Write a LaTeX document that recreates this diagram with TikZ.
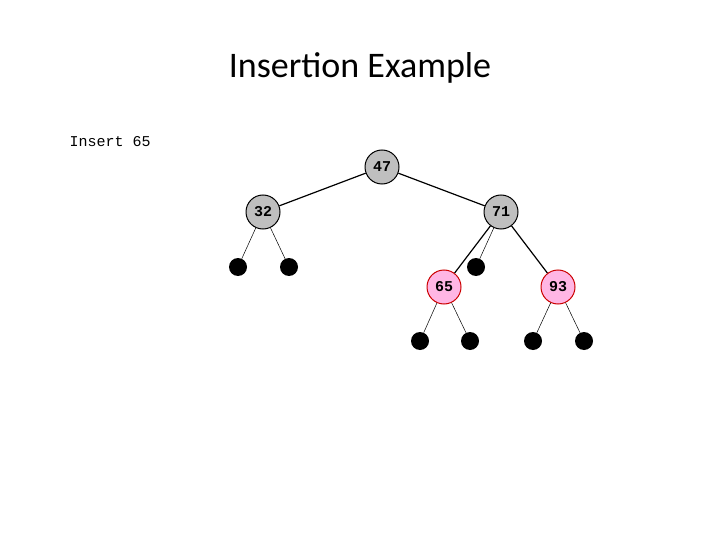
\documentclass[tikz,border=0pt]{standalone}
\usepackage{fontspec}
\setmainfont{Carlito}
\newfontfamily\codefont{Liberation Mono}
\begin{document}
\begin{tikzpicture}[x=1pt,y=-1pt,
  key/.style={circle,draw,line width=1pt,minimum size=34pt,inner sep=0pt,font=\codefont\bfseries\fontsize{15}{15}\selectfont},
  black key/.style={key,fill=gray!50},
  red key/.style={key,draw=red!80!black,fill=pink!70!magenta!60},
  leaf/.style={circle,fill=black,minimum size=18pt,inner sep=0pt},
  edge/.style={line width=1.2pt},
  thin edge/.style={line width=0.5pt}]
\useasboundingbox (0,0) rectangle (720,540);
\node at (360,68) {\fontsize{36}{36}\selectfont Insertion Example};
\node[anchor=west] at (66,142) {\codefont\fontsize{15}{15}\selectfont Insert 65};
\node[black key] (k47) at (382,167) {47};
\node[black key] (k32) at (263,212) {32};
\node[black key] (k71) at (501,212) {71};
\node[red key] (k65) at (444,287) {65};
\node[red key] (k93) at (558,287) {93};
\node[leaf] (l1) at (238,267) {};
\node[leaf] (l2) at (289,267) {};
\node[leaf] (l3) at (476,267) {};
\node[leaf] (l4) at (420,341) {};
\node[leaf] (l5) at (470,341) {};
\node[leaf] (l6) at (533,341) {};
\node[leaf] (l7) at (584,341) {};
\draw[edge] (k47) -- (k32);
\draw[edge] (k47) -- (k71);
\draw[edge] (k71) -- (k65);
\draw[edge] (k71) -- (k93);
\draw[thin edge] (k32) -- (l1);
\draw[thin edge] (k32) -- (l2);
\draw[thin edge] (k71) -- (l3);
\draw[thin edge] (k65) -- (l4);
\draw[thin edge] (k65) -- (l5);
\draw[thin edge] (k93) -- (l6);
\draw[thin edge] (k93) -- (l7);
\end{tikzpicture}
\end{document}
